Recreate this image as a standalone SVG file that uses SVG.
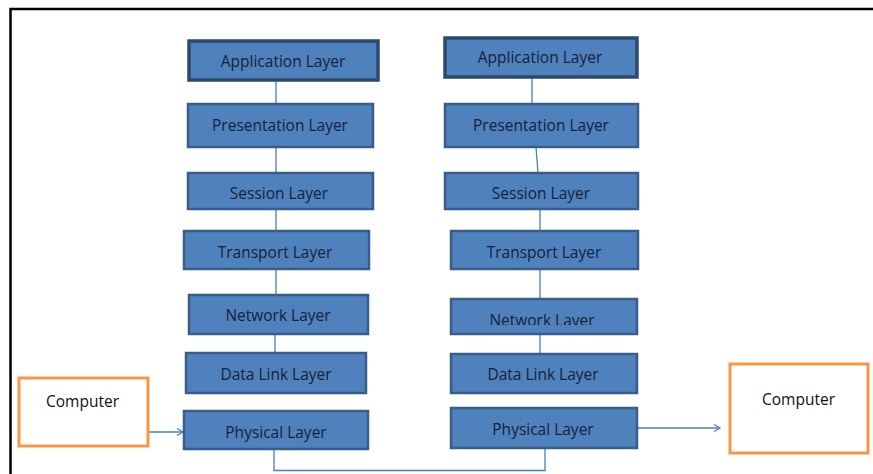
<svg xmlns="http://www.w3.org/2000/svg" width="873" height="474" viewBox="0 0 873 474">
  <style>
    .layer rect { fill: #4F81BD; stroke: #385D8A; stroke-width: 2.5; }
    .layer.top rect { stroke: #2B4A70; stroke-width: 3.5; }
    .layer text { font-family: "Open Sans", Lato, sans-serif; font-size: 15.5px; fill: #16213a; text-anchor: middle; }
    .pc rect { fill: #ffffff; stroke: #F79646; stroke-width: 3; }
    .pc text { font-family: "Open Sans", Lato, sans-serif; font-size: 15.5px; fill: #111111; }
    .links path { fill: none; stroke: #4A7EBB; stroke-width: 1.3; }
  </style>
  <defs>
    <marker id="arrow" markerWidth="10" markerHeight="10" refX="8" refY="5" orient="auto" markerUnits="userSpaceOnUse">
      <path d="M2,1.5 L8,5 L2,8.5" fill="none" stroke="#4A7EBB" stroke-width="1.3"/>
    </marker>
    <clipPath id="netClip">
      <rect x="451" y="299" width="186" height="26"/>
    </clipPath>
  </defs>

  <rect width="873" height="474" fill="#ffffff"/>
  <!-- page frame -->
  <path d="M10.5,474 L10.5,9 L873,9" fill="none" stroke="#000000" stroke-width="2.5"/>

  <!-- connectors -->
  <g class="links">
    <path d="M276,80 L276,104"/>
    <path d="M276,147 L276,173"/>
    <path d="M276,209 L276,231"/>
    <path d="M276,269 L276,295"/>
    <path d="M275,334 L275,353"/>
    <path d="M532,77 L532,104"/>
    <path d="M536,147 L538,173"/>
    <path d="M540,209 L540,231"/>
    <path d="M540,269 L540,299"/>
    <path d="M540,334 L540,354"/>
    <path d="M274,449 L274,470.5 L545,470.5 L545,448"/>
    <path d="M149,432 L183,432" marker-end="url(#arrow)"/>
    <path d="M637,428 L720,428" marker-end="url(#arrow)"/>
  </g>

  <!-- left stack -->
  <g id="l-application" class="layer top"><rect x="189" y="41" width="189" height="39"/><text x="283" y="67">Application Layer</text></g>
  <g id="l-presentation" class="layer"><rect x="188" y="104" width="185" height="43"/><text x="280" y="131">Presentation Layer</text></g>
  <g id="l-session" class="layer"><rect x="188" y="173" width="185" height="36"/><text x="279" y="199">Session Layer</text></g>
  <g id="l-transport" class="layer"><rect x="184" y="231" width="185" height="38"/><text x="275" y="258">Transport Layer</text></g>
  <g id="l-network" class="layer"><rect x="189" y="295" width="179" height="39"/><text x="278" y="321">Network Layer</text></g>
  <g id="l-datalink" class="layer"><rect x="186" y="353" width="180" height="40"/><text x="276" y="380">Data Link Layer</text></g>
  <g id="l-physical" class="layer"><rect x="184" y="411" width="184" height="38"/><text x="276" y="438">Physical Layer</text></g>

  <!-- right stack -->
  <g id="r-application" class="layer top"><rect x="445" y="38" width="192" height="39"/><text x="540" y="63">Application Layer</text></g>
  <g id="r-presentation" class="layer"><rect x="445" y="104" width="193" height="43"/><text x="541" y="131">Presentation Layer</text></g>
  <g id="r-session" class="layer"><rect x="445" y="173" width="193" height="36"/><text x="541" y="199">Session Layer</text></g>
  <g id="r-transport" class="layer"><rect x="451" y="231" width="187" height="38"/><text x="544" y="258">Transport Layer</text></g>
  <g id="r-network" class="layer"><rect x="451" y="299" width="186" height="35"/><text x="542" y="326" clip-path="url(#netClip)">Network Layer</text></g>
  <g id="r-datalink" class="layer"><rect x="451" y="354" width="186" height="39"/><text x="543" y="380">Data Link Layer</text></g>
  <g id="r-physical" class="layer"><rect x="451" y="408" width="186" height="40"/><text x="543" y="435">Physical Layer</text></g>

  <!-- end hosts -->
  <g id="pc-left" class="pc"><rect x="19" y="378" width="129" height="68"/><text x="46" y="407">Computer</text></g>
  <g id="pc-right" class="pc"><rect x="730" y="364" width="138" height="89"/><text x="762" y="405">Computer</text></g>
</svg>
